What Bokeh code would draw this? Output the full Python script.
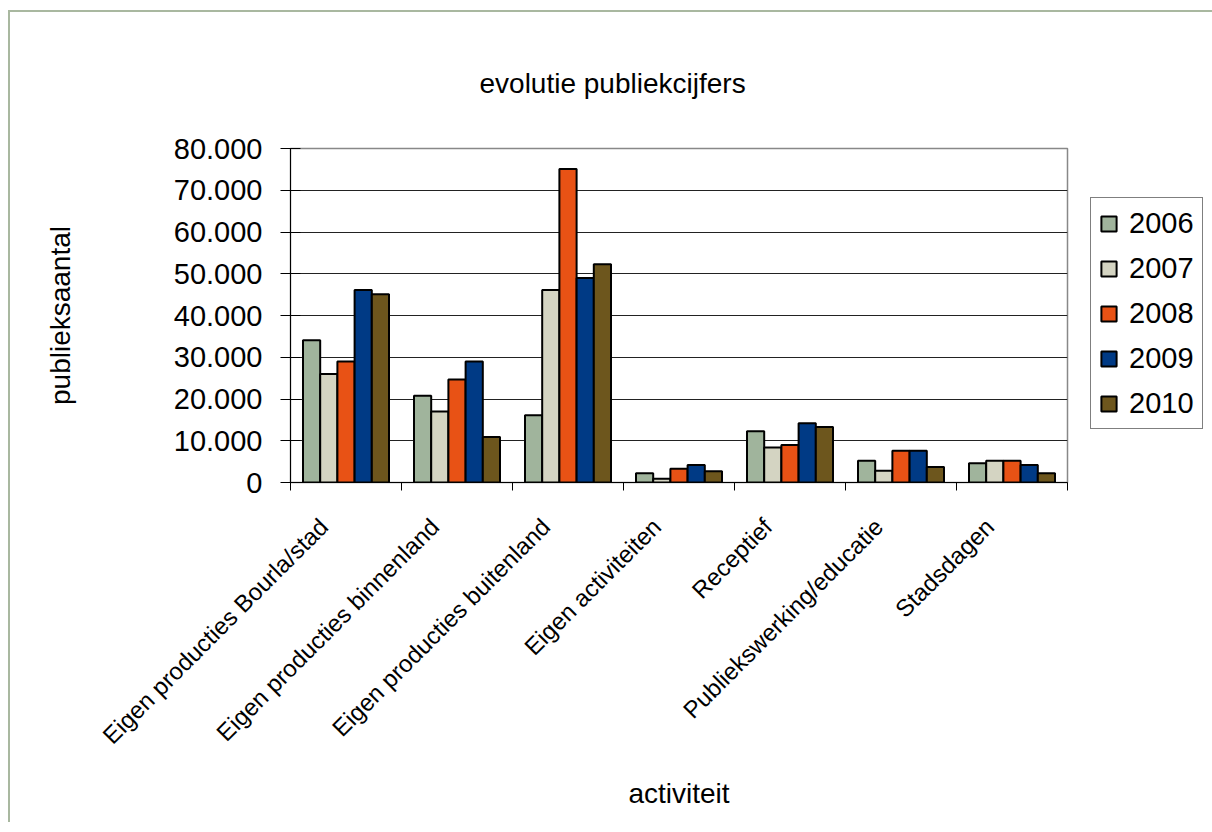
import math
from bokeh.plotting import figure
from bokeh.models import FixedTicker, Legend, LegendItem
from bokeh.embed import file_html
from bokeh.resources import INLINE

categories = [
    "Eigen producties Bourla/stad",
    "Eigen producties binnenland",
    "Eigen producties buitenland",
    "Eigen activiteiten",
    "Receptief",
    "Publiekswerking/educatie",
    "Stadsdagen",
]
years = ["2006", "2007", "2008", "2009", "2010"]
v2006 = [34100, 20800, 16100, 2200, 12300, 5200, 4600]
v2007 = [26000, 17000, 46100, 900, 8400, 2800, 5200]
v2008 = [29000, 24700, 75100, 3300, 9000, 7600, 5200]
v2009 = [46100, 29000, 49000, 4200, 14200, 7600, 4200]
v2010 = [45100, 10900, 52300, 2700, 13300, 3700, 2200]
series = [v2006, v2007, v2008, v2009, v2010]
colors = ["#a0b49c", "#d4d4c2", "#e85215", "#003a85", "#6d561d"]
y_ticks = [0, 10000, 20000, 30000, 40000, 50000, 60000, 70000, 80000]
y_tick_labels = ["0", "10.000", "20.000", "30.000", "40.000", "50.000", "60.000", "70.000", "80.000"]
title_text = "evolutie publiekcijfers"

FONT = "Liberation Sans"
n = len(categories)
bw = 0.155

p = figure(
    frame_width=777, frame_height=334,
    x_range=(0, n), y_range=(0, 80000),
    output_backend="svg", toolbar_location=None,
    min_border_left=280, min_border_right=143,
    min_border_top=136, min_border_bottom=340,
    title=title_text,
)
p.styles = {"margin-left": "8px", "margin-top": "10px",
            "border-left": "2px solid #a9b8a0", "border-top": "2px solid #a9b8a0"}

p.title.text_font = FONT
p.title.text_font_size = "28px"
p.title.text_font_style = "normal"
p.title.text_color = "black"
p.title.align = "left"
p.title.offset = 189
p.title.standoff = 100

items = []
for j, (yr, vals, col) in enumerate(zip(years, series, colors)):
    xs = [i + 0.5 + (j - 2) * bw for i in range(n)]
    r = p.vbar(x=xs, top=vals, bottom=0, width=bw, fill_color=col,
               line_color="black", line_width=2)
    items.append(LegendItem(label=yr, renderers=[r]))

legend = Legend(items=items, location=(23, 53))
legend.label_text_font = FONT
legend.label_text_font_size = "29px"
legend.label_text_color = "black"
legend.glyph_width = 19
legend.glyph_height = 19
legend.label_height = 34
legend.label_standoff = 11
legend.spacing = 11
legend.padding = 8
legend.margin = 0
legend.border_line_color = "black"
legend.border_line_width = 1
legend.background_fill_alpha = 1
p.add_layout(legend, "right")

# axes
p.xaxis.ticker = FixedTicker(ticks=[i + 0.3 for i in range(n)],
                             minor_ticks=list(range(n + 1)))
p.xaxis.major_label_overrides = {i + 0.3: c for i, c in enumerate(categories)}
p.xaxis.major_label_orientation = math.pi / 4
p.xaxis.major_tick_in = 0
p.xaxis.major_tick_out = 0
p.xaxis.minor_tick_in = 0
p.xaxis.minor_tick_out = 8
p.xaxis.minor_tick_line_color = "black"
p.xaxis.major_label_standoff = 32
p.xaxis.major_label_text_font = FONT
p.xaxis.major_label_text_font_size = "24px"
p.xaxis.major_label_text_color = "black"
p.xaxis.axis_label = "activiteit"
p.xaxis.axis_label_text_font = FONT
p.xaxis.axis_label_text_font_size = "28px"
p.xaxis.axis_label_text_font_style = "normal"
p.xaxis.axis_label_text_color = "black"
p.xaxis.axis_label_standoff = 16
p.xaxis.axis_line_color = "black"

p.yaxis.ticker = FixedTicker(ticks=y_ticks, minor_ticks=[])
p.yaxis.major_label_overrides = {t: l for t, l in zip(y_ticks, y_tick_labels)}
p.yaxis.major_tick_in = 10
p.yaxis.major_tick_out = 10
p.yaxis.major_tick_line_color = "black"
p.yaxis.minor_tick_line_color = None
p.yaxis.major_label_standoff = 18
p.yaxis.major_label_text_font = FONT
p.yaxis.major_label_text_font_size = "29px"
p.yaxis.major_label_text_color = "black"
p.yaxis.axis_label = "publieksaantal"
p.yaxis.axis_label_text_font = FONT
p.yaxis.axis_label_text_font_size = "28px"
p.yaxis.axis_label_text_font_style = "normal"
p.yaxis.axis_label_text_color = "black"
p.yaxis.axis_label_standoff = 95
p.yaxis.axis_line_color = "black"

p.xgrid.visible = False
p.ygrid.ticker = FixedTicker(ticks=y_ticks)
p.ygrid.grid_line_color = "#222222"
p.ygrid.grid_line_width = 1

p.outline_line_color = "#888888"
p.outline_line_width = 1.5

open("out.html", "w").write(file_html(p, INLINE))
